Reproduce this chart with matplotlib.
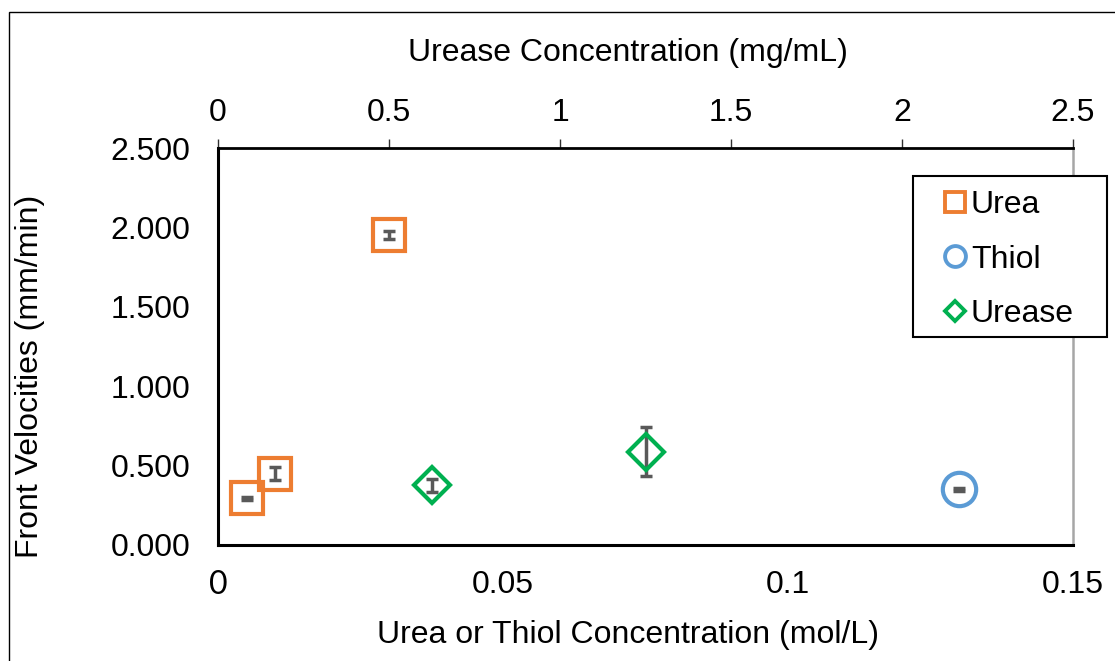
import matplotlib
matplotlib.use("Agg")
import matplotlib.pyplot as plt
from matplotlib.lines import Line2D
from matplotlib.patches import Rectangle

# front velocity measurements (mm/min)
urea_conc = [0.005, 0.010, 0.030]          # mol/L
urea_vel = [0.293, 0.450, 1.952]
urea_err = [0.010, 0.040, 0.025]

thiol_conc = [0.130]                       # mol/L
thiol_vel = [0.350]
thiol_err = [0.012]

urease_conc = [0.625, 1.25]                # mg/mL
urease_vel = [0.375, 0.587]
urease_err = [0.040, 0.155]

x_ticks = [0, 0.05, 0.1, 0.15]
x_tick_labels = ["0", "0.05", "0.1", "0.15"]
top_ticks = [0, 0.5, 1, 1.5, 2, 2.5]
top_tick_labels = ["0", "0.5", "1", "1.5", "2", "2.5"]
y_ticks = [0, 0.5, 1.0, 1.5, 2.0, 2.5]

ORANGE = "#ED7D31"
BLUE = "#5B9BD5"
GREEN = "#00B050"
ERR = "#595959"
FS = 23

plt.rcParams["font.family"] = ["Liberation Sans", "DejaVu Sans"]

W, H = 1115, 661
fig = plt.figure(figsize=(W / 100, H / 100), dpi=100)
ax = fig.add_axes([218 / W, 1 - 545 / H, (1073 - 218) / W, (545 - 148) / H])

# outer chart border
fig.patches.append(Rectangle((9 / W, -0.1), 1.2, 1.1 - 12 / H, transform=fig.transFigure,
                             fill=False, edgecolor="black", linewidth=1.0))

err_kw = dict(fmt="none", ecolor=ERR, elinewidth=2.5, capsize=4.5, capthick=2.5, zorder=3)

ax.errorbar(urea_conc, urea_vel, yerr=urea_err, **err_kw)
ax.plot(urea_conc, urea_vel, ls="none", marker="s", markersize=23, mfc="none",
        mec=ORANGE, mew=3, zorder=4)
ax.errorbar(thiol_conc, thiol_vel, yerr=thiol_err, **err_kw)
ax.plot(thiol_conc, thiol_vel, ls="none", marker="o", markersize=24, mfc="none",
        mec=BLUE, mew=3, zorder=4)

ax.set_xlim(0, 0.15)
ax.set_ylim(0, 2.5)
ax.set_xticks(x_ticks, x_tick_labels)
ax.set_yticks(y_ticks, [f"{v:.3f}" for v in y_ticks])
ax.tick_params(axis="both", length=0, labelsize=FS)
ax.tick_params(axis="x", pad=18)
ax.tick_params(axis="y", pad=20)
ax.get_xticklabels()[0].set_fontfamily("Lato")

for side in ("left", "bottom"):
    ax.spines[side].set_linewidth(2.2)
    ax.spines[side].set_color("black")
ax.spines["top"].set_visible(False)
ax.spines["right"].set_color("#A6A6A6")
ax.spines["right"].set_linewidth(1.8)

ax.set_xlabel("Urea or Thiol Concentration (mol/L)", fontsize=FS)
ax.set_ylabel("Front Velocities (mm/min)", fontsize=FS)
ax.xaxis.set_label_coords(0.48, -0.19)
ax.yaxis.set_label_coords(-0.202, 0.425)

# urease runs use the top axis
top = ax.twiny()
top.set_xlim(0, 2.5)
top.errorbar(urease_conc, urease_vel, yerr=urease_err, **err_kw)
top.plot(urease_conc, urease_vel, ls="none", marker="D", markersize=18, mfc="none",
         mec=GREEN, mew=3, zorder=4)
top.set_xticks(top_ticks, top_tick_labels)
top.tick_params(axis="x", direction="out", length=6.5, width=1, color="#303030",
                labelsize=FS, pad=8)
for side in ("left", "bottom", "right"):
    top.spines[side].set_visible(False)
top.spines["top"].set_linewidth(2.0)
top.spines["top"].set_color("black")
top.set_xlabel("Urease Concentration (mg/mL)", fontsize=FS)
top.xaxis.set_label_coords(0.48, 1.218)

# legend frame, drawn on its own so the entries can sit off-centre in it
top.add_patch(Rectangle((913 / W, 1 - 337 / H), 194 / W, 161 / H,
                        transform=fig.transFigure, clip_on=False, facecolor="white",
                        edgecolor="black", linewidth=1.5, zorder=5))

handles = [
    Line2D([], [], ls="none", marker="s", markersize=14.5, mfc="none", mec=ORANGE, mew=2.8),
    Line2D([], [], ls="none", marker="o", markersize=15, mfc="none", mec=BLUE, mew=2.8),
    Line2D([], [], ls="none", marker="D", markersize=10.5, mfc="none", mec=GREEN, mew=2.8),
]
leg = top.legend(handles, ["Urea", "Thiol", "Urease"], loc="upper left",
                 bbox_to_anchor=(939 / W, 1 - 190 / H), bbox_transform=fig.transFigure,
                 fontsize=FS, frameon=False, handlelength=1.0,
                 handletextpad=0.0, labelspacing=0.77, borderpad=0,
                 borderaxespad=0)
leg.set_zorder(6)

fig.savefig("out.png", dpi=100)
